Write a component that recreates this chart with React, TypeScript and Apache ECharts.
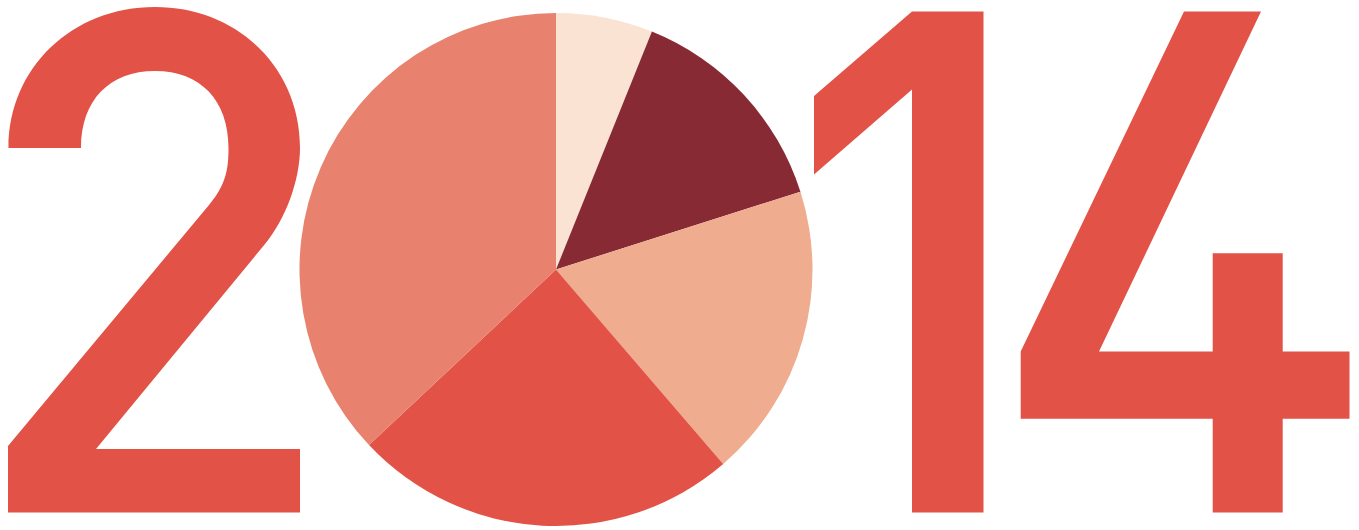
import React, { useEffect, useRef } from "react";
import * as echarts from "echarts";

const sliceNames = ["A", "B", "C", "D", "E"];
const sliceValues = [6.1, 14.0, 18.6, 24.3, 37.0];
const sliceColors = ["#fbe3d3", "#872a33", "#efac8f", "#e25247", "#e8826f"];

const DIGIT_COLOR = "#e25247";

const TWO_PATH =
  "M 8.5 148 C 8.5 68 72 7 155 7 C 238 7 300 68 300 148 " +
  "C 300 180 285.75 219 265 244 L 96 449 L 300 449 L 300 512.5 L 8 512.5 L 8 446 " +
  "L 209 205 C 225.7 185 228.5 170 228.5 148 " +
  "C 228.5 100.3 200.5 71 155 71 C 109.5 71 81 100.3 81 148 Z";

let registered = false;

export default function App() {
  const ref = useRef<HTMLDivElement>(null);
  useEffect(() => {
    if (!ref.current) return;
    if (!registered) {
      echarts.graphic.registerShape("digitTwo", echarts.graphic.extendPath(TWO_PATH, {}));
      registered = true;
    }
    const chart = echarts.init(ref.current, null, { renderer: "svg" });
    chart.setOption({
      animation: false,
      backgroundColor: "#ffffff",
      graphic: [
        {
          type: "digitTwo",
          x: 0,
          y: 0,
          z: 0,
          style: { fill: DIGIT_COLOR },
        },
        {
          type: "polygon",
          z: 0,
          shape: {
            points: [
              [814, 96],
              [912, 11.5],
              [983.5, 11.5],
              [983.5, 512.5],
              [912, 512.5],
              [912, 89.5],
              [814, 174.5],
            ],
          },
          style: { fill: DIGIT_COLOR },
        },
        {
          type: "polygon",
          z: 0,
          shape: {
            points: [
              [1184, 11.5],
              [1261, 11.5],
              [1099, 351.5],
              [1212.7, 351.5],
              [1212.7, 253.3],
              [1282.7, 253.3],
              [1282.7, 351.5],
              [1349.5, 351.5],
              [1349.5, 418.7],
              [1282.7, 418.7],
              [1282.7, 512.5],
              [1212.7, 512.5],
              [1212.7, 418.7],
              [1020.7, 418.7],
              [1020.7, 351.5],
            ],
          },
          style: { fill: DIGIT_COLOR },
        },
      ],
      series: [
        {
          type: "pie",
          z: 5,
          center: [556, 269.5],
          radius: [0, 256.5],
          startAngle: 90,
          clockwise: true,
          label: { show: false },
          labelLine: { show: false },
          emphasis: { disabled: true },
          itemStyle: { borderWidth: 0 },
          data: sliceNames.map((n, i) => ({
            name: n,
            value: sliceValues[i],
            itemStyle: { color: sliceColors[i] },
          })),
        },
      ],
    });
    return () => chart.dispose();
  }, []);
  return (
    <div
      ref={ref}
      style={{ position: "fixed", left: 0, top: 0, width: 1359, height: 530 }}
    />
  );
}
